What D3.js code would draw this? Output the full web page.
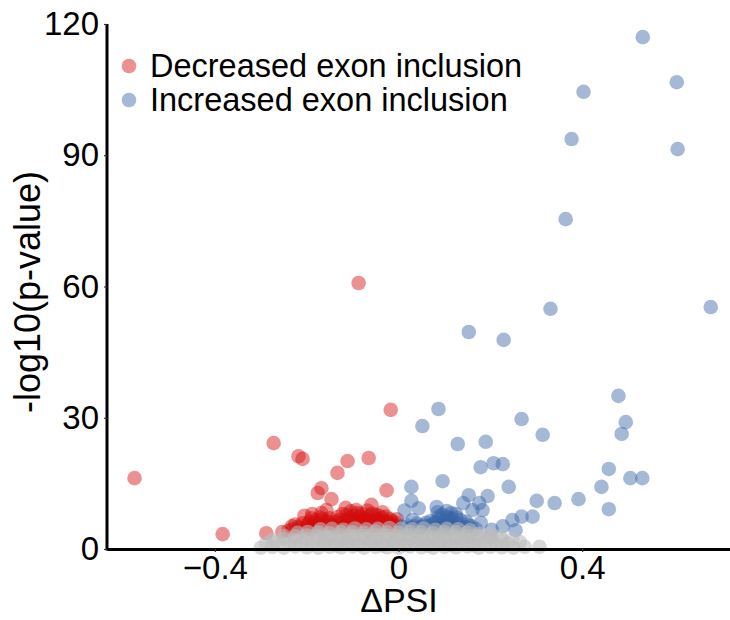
<!DOCTYPE html>
<html>
<head>
<meta charset="utf-8">
<script src="https://cdn.jsdelivr.net/npm/d3@7"></script>
<style>
  body { margin: 0; background: #fff; }
  svg { font-family: "Liberation Sans", Arial, sans-serif; }
</style>
</head>
<body>
<svg id="chart" width="730" height="620"></svg>
<script>
// DATA: [dPSI, -log10(p)]
const decreased = [
  [-0.575, 16.2], [-0.383, 3.4], [-0.288, 3.6], [-0.253, 3.9], [-0.231, 4.5],
  [-0.272, 24.2], [-0.218, 21.2], [-0.209, 20.6], [-0.111, 20.1], [-0.065, 20.8],
  [-0.133, 17.4], [-0.087, 60.8], [-0.017, 31.8],
  [-0.168, 13.9], [-0.176, 12.8], [-0.146, 11.4], [-0.026, 13.4], [-0.059, 10.1],
  [-0.115, 9.4], [-0.157, 8.9],
  [-0.209, 5.9], [-0.194, 6.2], [-0.179, 6.6], [-0.168, 8.2], [-0.133, 7.3],
  [-0.089, 8.2], [-0.107, 7.1], [-0.078, 6.6], [-0.048, 6.9], [-0.026, 6.2],
  [-0.013, 5.5], [-0.194, 4.6], [-0.135, 4.8],
  [-0.200, 5.0], [-0.185, 5.4], [-0.172, 5.0], [-0.160, 5.6], [-0.150, 6.1],
  [-0.142, 5.2], [-0.125, 5.8], [-0.118, 6.4], [-0.112, 5.3], [-0.100, 5.9],
  [-0.095, 6.8], [-0.090, 5.2], [-0.083, 7.4], [-0.075, 5.6], [-0.070, 6.2],
  [-0.064, 7.6], [-0.060, 5.3], [-0.055, 6.0], [-0.050, 7.8], [-0.045, 5.5],
  [-0.040, 6.4], [-0.036, 7.2], [-0.030, 5.3], [-0.022, 5.9], [-0.018, 6.8],
  [-0.010, 5.0], [-0.006, 6.0], [-0.122, 8.0], [-0.104, 8.6], [-0.068, 8.8],
  [-0.035, 8.4], [-0.150, 7.0], [-0.165, 6.8], [-0.215, 4.8], [-0.225, 5.6],
  [-0.240, 4.2], [-0.205, 7.6], [-0.188, 8.0],
  [-0.198, 5.6], [-0.182, 6.0], [-0.170, 7.2], [-0.158, 6.3], [-0.146, 5.6],
  [-0.128, 6.6], [-0.120, 5.1], [-0.108, 6.4], [-0.097, 7.6], [-0.086, 6.0],
  [-0.079, 8.0], [-0.072, 7.0], [-0.062, 6.6], [-0.052, 5.2], [-0.043, 7.6],
  [-0.033, 6.4], [-0.027, 7.4], [-0.015, 6.4], [-0.008, 5.4], [-0.004, 6.8],
  [-0.092, 8.9], [-0.058, 8.1], [-0.113, 7.8], [-0.138, 6.2], [-0.175, 5.8],
  [-0.220, 5.0], [-0.232, 5.2], [-0.190, 7.0], [-0.080, 5.4], [-0.047, 6.2]
];

const increased = [
  [0.532, 117.0], [0.606, 106.7], [0.403, 104.5], [0.377, 93.7], [0.608, 91.4],
  [0.364, 75.4], [0.331, 54.9], [0.680, 55.3], [0.153, 49.6], [0.229, 47.8],
  [0.087, 32.0], [0.052, 28.1], [0.268, 29.7], [0.314, 26.1], [0.129, 24.0],
  [0.190, 24.5], [0.479, 35.0], [0.495, 29.0], [0.486, 26.3], [0.179, 18.7],
  [0.207, 19.6], [0.227, 19.4], [0.458, 18.3], [0.505, 16.2], [0.531, 16.2],
  [0.096, 15.5], [0.028, 14.2], [0.240, 14.2], [0.442, 14.2],
  [0.301, 11.0], [0.340, 10.5], [0.392, 11.4], [0.458, 9.1], [0.028, 11.0],
  [0.013, 8.8], [0.044, 9.3], [0.031, 6.6], [0.083, 9.6], [0.105, 8.7],
  [0.153, 12.3], [0.141, 10.5], [0.176, 10.5], [0.194, 12.1], [0.183, 8.9],
  [0.161, 8.9], [0.179, 6.0], [0.203, 4.4], [0.227, 5.2], [0.248, 6.6],
  [0.268, 7.4], [0.292, 7.4], [0.255, 4.3], [0.148, 6.2], [0.126, 7.2], [0.115, 8.2],
  [0.010, 5.0], [0.020, 4.6], [0.035, 5.2], [0.045, 4.7], [0.055, 5.4],
  [0.065, 4.8], [0.075, 5.6], [0.085, 5.0], [0.095, 5.8], [0.100, 4.8],
  [0.110, 6.2], [0.120, 5.2], [0.130, 5.8], [0.140, 4.8], [0.060, 6.0],
  [0.090, 6.8], [0.105, 7.4], [0.118, 6.8], [0.135, 6.6], [0.158, 5.2],
  [0.168, 4.6], [0.040, 5.8], [0.070, 6.4], [0.095, 7.8], [0.085, 8.4], [0.125, 8.0],
  [0.015, 5.6], [0.028, 4.9], [0.050, 5.0], [0.068, 5.3], [0.080, 4.7],
  [0.092, 5.2], [0.108, 5.4], [0.115, 4.7], [0.128, 4.9], [0.150, 5.6],
  [0.078, 6.1], [0.100, 6.4], [0.112, 7.0], [0.088, 7.4], [0.145, 5.0]
];

const unchanged = [
  [-0.300, 0.3], [-0.275, 0.5], [-0.250, 0.3], [-0.225, 0.6], [-0.200, 0.4], [-0.175, 0.3],
  [-0.150, 0.5], [-0.125, 0.4], [-0.100, 0.6], [-0.075, 0.3], [-0.050, 0.5], [-0.025, 0.4],
  [0.000, 0.3], [0.025, 0.6], [0.050, 0.4], [0.075, 0.3], [0.100, 0.5], [0.125, 0.4],
  [0.150, 0.6], [0.175, 0.3], [0.200, 0.5], [0.225, 0.4], [0.250, 0.3], [0.275, 0.5],
  [0.307, 0.5],
  [-0.288, 1.3], [-0.266, 1.6], [-0.238, 1.2], [-0.212, 1.4], [-0.188, 1.1], [-0.162, 1.3],
  [-0.138, 1.2], [-0.112, 1.5], [-0.088, 1.1], [-0.062, 1.4], [-0.038, 1.2], [-0.012, 1.3],
  [0.012, 1.1], [0.038, 1.5], [0.062, 1.2], [0.088, 1.4], [0.112, 1.1], [0.138, 1.3],
  [0.162, 1.2], [0.188, 1.5], [0.212, 1.2], [0.238, 1.3], [0.264, 1.6],
  [-0.275, 2.1], [-0.250, 2.3], [-0.225, 2.0], [-0.200, 2.2], [-0.175, 2.1], [-0.150, 2.4],
  [-0.125, 2.0], [-0.100, 2.2], [-0.075, 2.3], [-0.050, 2.0], [-0.025, 2.2], [0.000, 2.1],
  [0.025, 2.4], [0.050, 2.0], [0.075, 2.2], [0.100, 2.1], [0.125, 2.3], [0.150, 2.0],
  [0.175, 2.2], [0.200, 2.1], [0.225, 2.0], [0.248, 2.2],
  [-0.250, 3.0], [-0.225, 2.9], [-0.200, 3.1], [-0.175, 3.0], [-0.150, 2.8], [-0.125, 3.1],
  [-0.100, 3.0], [-0.075, 2.9], [-0.050, 3.2], [-0.025, 3.0], [0.000, 2.9], [0.025, 3.1],
  [0.050, 3.0], [0.075, 2.8], [0.100, 3.1], [0.125, 3.0], [0.150, 2.9], [0.175, 3.0],
  [0.200, 2.8], [0.222, 2.9],
  [-0.220, 3.7], [-0.198, 3.9], [-0.175, 3.8], [-0.150, 3.6], [-0.125, 3.9], [-0.100, 3.8],
  [-0.075, 3.7], [-0.050, 4.0], [-0.025, 3.8], [0.000, 3.7], [0.025, 3.9], [0.050, 3.8],
  [0.075, 3.6], [0.100, 3.9], [0.125, 3.8], [0.150, 3.7], [0.175, 3.5], [0.198, 3.4],
  [-0.170, 4.5], [-0.145, 4.6], [-0.120, 4.4], [-0.095, 4.7], [-0.070, 4.5], [-0.045, 4.6],
  [-0.020, 4.8], [0.005, 4.6], [0.030, 4.5], [0.055, 4.7], [0.080, 4.4], [0.105, 4.6],
  [0.130, 4.5], [0.155, 4.3],
  [-0.160, 1.8], [-0.110, 1.7], [-0.060, 1.8], [-0.010, 1.7], [0.040, 1.8], [0.090, 1.7],
  [0.140, 1.8], [-0.135, 0.8], [-0.085, 0.9], [-0.035, 0.8], [0.015, 0.9], [0.065, 0.8],
  [0.115, 0.9], [0.165, 0.8]
];

const xTicks = [-0.4, 0, 0.4];
const yTicks = [0, 30, 60, 90, 120];
const legendLabels = ['Decreased exon inclusion', 'Increased exon inclusion'];

const colRed = '#d30b0b';
const colBlue = '#3763a6';
const colGrey = '#bcbcbc';

const svg = d3.select('#chart');

const x = d3.scaleLinear().domain([-0.635, 0.722]).range([107, 730]);
const y = d3.scaleLinear().domain([0, 120]).range([549, 24]);

// points
const plot = svg.append('g');
function drawPoints(data, color, alpha) {
  plot.append('g').selectAll('circle')
    .data(data)
    .enter().append('circle')
    .attr('cx', d => x(d[0]))
    .attr('cy', d => y(d[1]))
    .attr('r', 7.3)
    .attr('fill', color)
    .attr('fill-opacity', alpha);
}
drawPoints(decreased, colRed, 0.45);
drawPoints(increased, colBlue, 0.45);
drawPoints(unchanged, colGrey, 0.58);

// axes
const xAxis = d3.axisBottom(x).tickValues(xTicks).tickFormat(d => d === 0 ? '0' : d3.format('.1f')(d))
  .tickSize(3).tickSizeOuter(0).tickPadding(4);
const yAxis = d3.axisLeft(y).tickValues(yTicks).tickFormat(d3.format('d'))
  .tickSize(3).tickSizeOuter(0).tickPadding(5);

const gx = svg.append('g').attr('transform', 'translate(0,549)').call(xAxis);
const gy = svg.append('g').attr('transform', 'translate(107,0)').call(yAxis);

[gx, gy].forEach(g => {
  g.select('.domain').attr('stroke', '#000').attr('stroke-width', 3);
  g.selectAll('.tick line').attr('stroke', '#333').attr('stroke-width', 1.2);
  g.selectAll('.tick text')
    .attr('fill', '#000')
    .style('font-size', '33px')
    .style('font-family', '"Liberation Sans", Arial, sans-serif');
});
gy.select('.domain').attr('d', 'M0,24V550.5');

// axis titles
svg.append('text')
  .attr('x', 399).attr('y', 612)
  .attr('text-anchor', 'middle')
  .style('font-size', '34px')
  .text('ΔPSI');

svg.append('text')
  .attr('transform', 'translate(40,292) rotate(-90)')
  .attr('text-anchor', 'middle')
  .style('font-size', '36px')
  .text('-log10(p-value)');

// legend
const legend = svg.append('g');
const legendCols = [colRed, colBlue];
legendLabels.forEach((lab, i) => {
  const ly = 66 + i * 34;
  legend.append('circle')
    .attr('cx', 129).attr('cy', ly).attr('r', 7.3)
    .attr('fill', legendCols[i]).attr('fill-opacity', 0.45);
  legend.append('text')
    .attr('x', 150).attr('y', ly + 11)
    .style('font-size', '32.5px')
    .text(lab);
});
</script>
</body>
</html>
